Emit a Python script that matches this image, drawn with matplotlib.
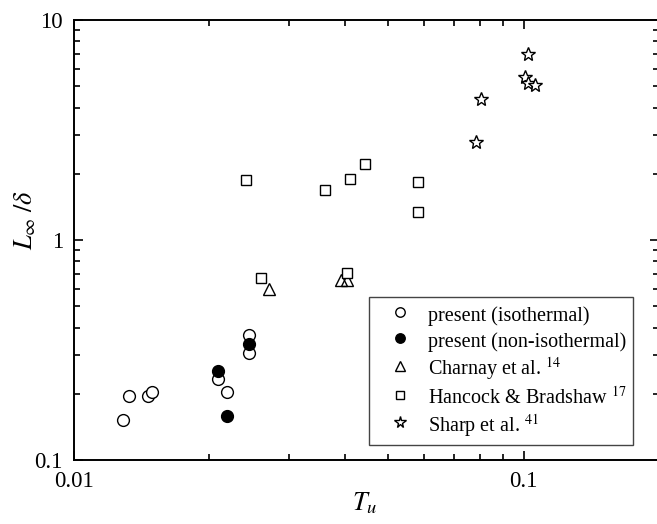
import matplotlib.pyplot as plt
import numpy as np
from matplotlib.ticker import LogLocator, NullFormatter, FixedFormatter, FixedLocator

plt.rcParams['font.family'] = ['Liberation Serif', 'DejaVu Serif']
plt.rcParams['mathtext.fontset'] = 'stix'

# turbulence intensity Tu vs normalised length scale L_inf / delta
iso_tu = [0.01283, 0.01325, 0.01463, 0.01488, 0.0209, 0.02188, 0.02448, 0.02448]
iso_l = [0.152, 0.195, 0.195, 0.204, 0.233, 0.204, 0.370, 0.306]

noniso_tu = [0.0209, 0.02448, 0.02188]
noniso_l = [0.253, 0.336, 0.1585]

charnay_tu = [0.0271, 0.0392, 0.0404]
charnay_l = [0.597, 0.658, 0.658]

hancock_tu = [0.0241, 0.0261, 0.0362, 0.0412, 0.0443, 0.0404, 0.0583, 0.0583]
hancock_l = [1.87, 0.670, 1.69, 1.89, 2.22, 0.710, 1.83, 1.336]

sharp_tu = [0.0785, 0.0805, 0.1024, 0.1007, 0.1024, 0.106]
sharp_l = [2.80, 4.39, 7.01, 5.51, 5.19, 5.08]

fig = plt.figure(figsize=(6.57, 5.24), dpi=100)
ax = fig.add_axes([74 / 657, 64 / 524, 585 / 657, 440 / 524])

kw = dict(linestyle='none', markeredgecolor='black', markeredgewidth=1.0)
ax.plot(iso_tu, iso_l, 'o', ms=8.5, markerfacecolor='white', label='present (isothermal)', **kw)
ax.plot(noniso_tu, noniso_l, 'o', ms=8.5, markerfacecolor='black', label='present (non-isothermal)', **kw)
ax.plot(charnay_tu, charnay_l, '^', ms=9, markerfacecolor='none', label='Charnay et al. $^{14}$', **kw)
ax.plot(hancock_tu, hancock_l, 's', ms=7, markerfacecolor='white', label='Hancock & Bradshaw $^{17}$', **kw)
ax.plot(sharp_tu, sharp_l, '*', ms=10.5, markerfacecolor='white', label='Sharp et al. $^{41}$', **kw)

ax.set_xscale('log')
ax.set_yscale('log')
ax.set_xlim(0.01, 0.2)
ax.set_ylim(0.1, 10)

ax.xaxis.set_major_locator(FixedLocator([0.01, 0.1]))
ax.xaxis.set_major_formatter(FixedFormatter(['0.01', '0.1']))
ax.yaxis.set_major_locator(FixedLocator([0.1, 1, 10]))
ax.yaxis.set_major_formatter(FixedFormatter(['0.1', '1', '10']))
ax.xaxis.set_minor_locator(LogLocator(base=10, subs=np.arange(2, 10)))
ax.yaxis.set_minor_locator(LogLocator(base=10, subs=np.arange(2, 10)))
ax.xaxis.set_minor_formatter(NullFormatter())
ax.yaxis.set_minor_formatter(NullFormatter())

ax.tick_params(which='both', direction='in', top=True, right=True, labelsize=16.5, width=1.2)
ax.tick_params(which='major', length=6.5)
ax.tick_params(which='minor', length=4)
ax.tick_params(axis='x', pad=8)
ax.tick_params(axis='y', pad=8)
for s in ax.spines.values():
    s.set_linewidth(1.4)

ax.set_xlabel(r'$T_u$', fontsize=19)
ax.set_ylabel(r'$L_{\infty}\;/\delta$', fontsize=19)
ax.xaxis.set_label_coords(0.497, -0.068)
ax.yaxis.set_label_coords(-0.062, 0.545)

leg = ax.legend(loc='lower right', bbox_to_anchor=(0.955, 0.035), borderaxespad=0,
                fontsize=14.5, fancybox=False, framealpha=1, edgecolor='#444444',
                markerscale=0.8, handlelength=2.5, handleheight=1.37,
                handletextpad=0.15, borderpad=0.3, labelspacing=0.15)
leg.get_frame().set_linewidth(1.0)

fig.savefig('out.png', dpi=100)
